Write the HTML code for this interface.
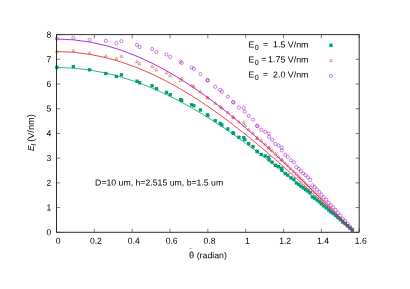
<!DOCTYPE html>
<html><head><meta charset="utf-8"><title>plot</title><style>html,body{margin:0;padding:0;background:#fff}svg{display:block;will-change:transform}</style></head><body>
<svg width="410" height="289" viewBox="0 0 410 289">
<rect width="410" height="289" fill="#fff"/>
<path d="M56.50,232.30h3.6M359.20,232.30h-3.6 M56.50,207.59h3.6M359.20,207.59h-3.6 M56.50,182.88h3.6M359.20,182.88h-3.6 M56.50,158.16h3.6M359.20,158.16h-3.6 M56.50,133.45h3.6M359.20,133.45h-3.6 M56.50,108.74h3.6M359.20,108.74h-3.6 M56.50,84.03h3.6M359.20,84.03h-3.6 M56.50,59.31h3.6M359.20,59.31h-3.6 M56.50,34.60h3.6M359.20,34.60h-3.6 M56.50,232.30v-3.6M56.50,34.60v3.6 M94.34,232.30v-3.6M94.34,34.60v3.6 M132.18,232.30v-3.6M132.18,34.60v3.6 M170.01,232.30v-3.6M170.01,34.60v3.6 M207.85,232.30v-3.6M207.85,34.60v3.6 M245.69,232.30v-3.6M245.69,34.60v3.6 M283.53,232.30v-3.6M283.53,34.60v3.6 M321.36,232.30v-3.6M321.36,34.60v3.6 M359.20,232.30v-3.6M359.20,34.60v3.6" stroke="#333" stroke-width="0.65" fill="none"/>
<g fill="none" stroke-width="0.8">
<path d="M56.50,67.47 L56.80,67.47 L73.40,68.12 L89.60,69.98 L105.80,73.03 L116.40,75.66 L121.40,77.07 L137.00,82.17 L139.60,83.11 L152.10,88.07 L156.40,89.92 L166.50,94.55 L170.20,96.35 L180.60,101.68 L181.70,102.26 L191.60,107.74 L193.80,109.00 L200.40,112.89 L207.40,117.18 L207.90,117.49 L215.20,122.14 L220.20,125.42 L221.90,126.55 L227.80,130.54 L233.00,134.15 L233.50,134.50 L238.90,138.32 L243.80,141.86 L244.80,142.59 L248.70,145.46 L253.00,148.67 L257.00,151.69 L257.40,151.99 L261.30,154.98 L265.20,157.99 L268.70,160.73 L269.10,161.04 L272.10,163.41 L275.40,166.03 L278.40,168.43 L281.70,171.09 L281.90,171.25 L285.20,173.93 L287.80,176.06 L291.00,178.69 L293.90,181.08 L296.40,183.16 L298.80,185.16 L300.90,186.91 L303.20,188.84 L305.60,190.86 L307.90,192.81 L310.10,194.67 L312.40,196.62 L314.70,198.58 L317.10,200.63 L319.40,202.60 L321.50,204.40 L323.80,206.38 L326.20,208.45 L328.60,210.52 L330.80,212.42 L333.20,214.50 L335.59,216.56 L337.98,218.64 L340.36,220.71 L342.75,222.79 L345.14,224.86 L347.52,226.94 L349.91,229.02 L352.30,231.10" stroke="#009E73"/>
<path d="M56.50,51.53 L56.80,51.53 L73.40,52.25 L89.60,54.29 L105.80,57.63 L116.40,60.51 L121.40,62.06 L137.00,67.65 L139.60,68.69 L152.10,74.12 L156.40,76.15 L166.50,81.23 L170.20,83.20 L180.60,89.05 L181.70,89.69 L191.60,95.69 L193.80,97.08 L200.40,101.35 L207.40,106.05 L207.90,106.39 L215.20,111.49 L220.20,115.08 L221.90,116.32 L227.80,120.70 L233.00,124.65 L233.50,125.04 L238.90,129.24 L243.80,133.12 L244.80,133.92 L248.70,137.06 L253.00,140.58 L257.00,143.89 L257.40,144.23 L261.30,147.50 L265.20,150.81 L268.70,153.81 L269.10,154.15 L272.10,156.75 L275.40,159.62 L278.40,162.26 L281.70,165.17 L281.90,165.35 L285.20,168.29 L287.80,170.62 L291.00,173.50 L293.90,176.13 L296.40,178.40 L298.80,180.60 L300.90,182.52 L303.20,184.64 L305.60,186.86 L307.90,188.99 L310.10,191.03 L312.40,193.17 L314.70,195.32 L317.10,197.57 L319.40,199.73 L321.50,201.70 L323.80,203.87 L326.20,206.14 L328.60,208.41 L330.80,210.50 L333.20,212.77 L335.59,215.04 L337.98,217.32 L340.36,219.59 L342.75,221.87 L345.14,224.15 L347.52,226.42 L349.91,228.71 L352.30,230.99" stroke="#E51E10"/>
<path d="M56.50,39.05 L56.80,39.05 L73.40,39.82 L89.60,42.00 L105.80,45.57 L116.40,48.65 L121.40,50.31 L137.00,56.28 L139.60,57.39 L152.10,63.20 L156.40,65.37 L166.50,70.80 L170.20,72.91 L180.60,79.16 L181.70,79.84 L191.60,86.26 L193.80,87.75 L200.40,92.31 L207.40,97.33 L207.90,97.70 L215.20,103.15 L220.20,106.99 L221.90,108.32 L227.80,113.00 L233.00,117.22 L233.50,117.63 L238.90,122.12 L243.80,126.27 L244.80,127.12 L248.70,130.49 L253.00,134.25 L257.00,137.79 L257.40,138.15 L261.30,141.65 L265.20,145.18 L268.70,148.39 L269.10,148.76 L272.10,151.53 L275.40,154.61 L278.40,157.42 L281.70,160.54 L281.90,160.73 L285.20,163.87 L287.80,166.36 L291.00,169.44 L293.90,172.25 L296.40,174.68 L298.80,177.03 L300.90,179.09 L303.20,181.35 L305.60,183.72 L307.90,186.00 L310.10,188.18 L312.40,190.47 L314.70,192.77 L317.10,195.17 L319.40,197.48 L321.50,199.59 L323.80,201.91 L326.20,204.33 L328.60,206.76 L330.80,208.99 L333.20,211.43 L335.59,213.85 L337.98,216.28 L340.36,218.71 L342.75,221.15 L345.14,223.58 L347.52,226.02 L349.91,228.46 L352.30,230.90" stroke="#9400D3"/>
</g>
<g fill="#009E73"><rect x="55.15" y="65.75" width="3.30" height="3.30"/><rect x="71.75" y="64.95" width="3.30" height="3.30"/><rect x="87.95" y="68.15" width="3.30" height="3.30"/><rect x="104.15" y="71.85" width="3.30" height="3.30"/><rect x="114.75" y="74.75" width="3.30" height="3.30"/><rect x="119.75" y="73.15" width="3.30" height="3.30"/><rect x="135.35" y="79.55" width="3.30" height="3.30"/><rect x="137.95" y="81.15" width="3.30" height="3.30"/><rect x="150.45" y="84.05" width="3.30" height="3.30"/><rect x="154.75" y="87.05" width="3.30" height="3.30"/><rect x="164.85" y="90.69" width="3.30" height="3.30"/><rect x="168.55" y="93.06" width="3.30" height="3.30"/><rect x="178.95" y="97.85" width="3.30" height="3.30"/><rect x="180.05" y="98.87" width="3.30" height="3.30"/><rect x="189.95" y="103.15" width="3.30" height="3.30"/><rect x="192.15" y="104.05" width="3.30" height="3.30"/><rect x="198.75" y="108.35" width="3.30" height="3.30"/><rect x="205.75" y="113.25" width="3.30" height="3.30"/><rect x="206.25" y="113.75" width="3.30" height="3.30"/><rect x="213.55" y="119.05" width="3.30" height="3.30"/><rect x="218.55" y="121.75" width="3.30" height="3.30"/><rect x="220.25" y="123.35" width="3.30" height="3.30"/><rect x="226.15" y="127.25" width="3.30" height="3.30"/><rect x="231.35" y="131.15" width="3.30" height="3.30"/><rect x="231.85" y="131.65" width="3.30" height="3.30"/><rect x="237.25" y="135.65" width="3.30" height="3.30"/><rect x="242.15" y="136.05" width="3.30" height="3.30"/><rect x="243.15" y="137.95" width="3.30" height="3.30"/><rect x="247.05" y="141.99" width="3.30" height="3.30"/><rect x="251.35" y="144.94" width="3.30" height="3.30"/><rect x="255.35" y="149.62" width="3.30" height="3.30"/><rect x="255.75" y="150.01" width="3.30" height="3.30"/><rect x="259.65" y="152.79" width="3.30" height="3.30"/><rect x="263.55" y="154.28" width="3.30" height="3.30"/><rect x="267.05" y="155.68" width="3.30" height="3.30"/><rect x="267.45" y="158.19" width="3.30" height="3.30"/><rect x="270.45" y="160.50" width="3.30" height="3.30"/><rect x="273.75" y="163.64" width="3.30" height="3.30"/><rect x="276.75" y="164.88" width="3.30" height="3.30"/><rect x="280.05" y="166.58" width="3.30" height="3.30"/><rect x="280.25" y="168.63" width="3.30" height="3.30"/><rect x="283.55" y="171.99" width="3.30" height="3.30"/><rect x="286.15" y="173.45" width="3.30" height="3.30"/><rect x="289.35" y="176.20" width="3.30" height="3.30"/><rect x="292.25" y="177.81" width="3.30" height="3.30"/><rect x="294.75" y="181.38" width="3.30" height="3.30"/><rect x="297.15" y="182.76" width="3.30" height="3.30"/><rect x="299.25" y="184.58" width="3.30" height="3.30"/><rect x="301.55" y="186.11" width="3.30" height="3.30"/><rect x="303.95" y="187.63" width="3.30" height="3.30"/><rect x="306.25" y="189.23" width="3.30" height="3.30"/><rect x="308.45" y="191.12" width="3.30" height="3.30"/><rect x="310.75" y="195.21" width="3.30" height="3.30"/><rect x="313.05" y="196.50" width="3.30" height="3.30"/><rect x="315.45" y="198.47" width="3.30" height="3.30"/><rect x="317.75" y="200.28" width="3.30" height="3.30"/><rect x="319.85" y="202.25" width="3.30" height="3.30"/><rect x="322.15" y="204.22" width="3.30" height="3.30"/><rect x="324.55" y="206.18" width="3.30" height="3.30"/><rect x="326.95" y="208.37" width="3.30" height="3.30"/><rect x="329.15" y="210.26" width="3.30" height="3.30"/><rect x="331.55" y="211.84" width="3.30" height="3.30"/><rect x="333.94" y="213.91" width="3.30" height="3.30"/><rect x="336.33" y="215.97" width="3.30" height="3.30"/><rect x="338.71" y="218.03" width="3.30" height="3.30"/><rect x="341.10" y="220.47" width="3.30" height="3.30"/><rect x="343.49" y="222.15" width="3.30" height="3.30"/><rect x="345.88" y="224.21" width="3.30" height="3.30"/><rect x="348.26" y="226.27" width="3.30" height="3.30"/><rect x="350.65" y="228.32" width="3.30" height="3.30"/><rect x="329.35" y="43.65" width="3.30" height="3.30"/></g>
<g fill="none" stroke="#E51E10" stroke-width="0.45"><path d="M56.80,50.10L55.35,52.70L58.25,52.70Z"/><path d="M73.40,49.10L71.95,51.70L74.85,51.70Z"/><path d="M89.60,51.50L88.15,54.10L91.05,54.10Z"/><path d="M105.80,54.40L104.35,57.00L107.25,57.00Z"/><path d="M116.40,57.30L114.95,59.90L117.85,59.90Z"/><path d="M121.40,54.80L119.95,57.40L122.85,57.40Z"/><path d="M137.00,60.00L135.55,62.60L138.45,62.60Z"/><path d="M139.60,62.40L138.15,65.00L141.05,65.00Z"/><path d="M152.10,64.90L150.65,67.50L153.55,67.50Z"/><path d="M156.40,68.40L154.95,71.00L157.85,71.00Z"/><path d="M166.50,71.20L165.05,73.80L167.95,73.80Z"/><path d="M170.20,74.10L168.75,76.70L171.65,76.70Z"/><path d="M180.60,78.70L179.15,81.30L182.05,81.30Z"/><path d="M181.70,76.76L180.25,79.36L183.15,79.36Z"/><path d="M191.60,84.00L190.15,86.60L193.05,86.60Z"/><path d="M193.80,84.70L192.35,87.30L195.25,87.30Z"/><path d="M200.40,90.20L198.95,92.80L201.85,92.80Z"/><path d="M207.40,95.70L205.95,98.30L208.85,98.30Z"/><path d="M207.90,96.30L206.45,98.90L209.35,98.90Z"/><path d="M215.20,101.70L213.75,104.30L216.65,104.30Z"/><path d="M220.20,105.20L218.75,107.80L221.65,107.80Z"/><path d="M221.90,106.20L220.45,108.80L223.35,108.80Z"/><path d="M227.80,111.00L226.35,113.60L229.25,113.60Z"/><path d="M233.00,115.30L231.55,117.90L234.45,117.90Z"/><path d="M233.50,115.90L232.05,118.50L234.95,118.50Z"/><path d="M238.90,120.40L237.45,123.00L240.35,123.00Z"/><path d="M243.80,120.80L242.35,123.40L245.25,123.40Z"/><path d="M244.80,124.10L243.35,126.70L246.25,126.70Z"/><path d="M248.70,128.20L247.25,130.80L250.15,130.80Z"/><path d="M253.00,131.50L251.55,134.10L254.45,134.10Z"/><path d="M257.00,136.40L255.55,139.00L258.45,139.00Z"/><path d="M257.40,136.90L255.95,139.50L258.85,139.50Z"/><path d="M261.30,139.11L259.85,141.71L262.75,141.71Z"/><path d="M265.20,142.68L263.75,145.28L266.65,145.28Z"/><path d="M268.70,145.91L267.25,148.51L270.15,148.51Z"/><path d="M269.10,146.28L267.65,148.88L270.55,148.88Z"/><path d="M272.10,149.08L270.65,151.68L273.55,151.68Z"/><path d="M275.40,152.18L273.95,154.78L276.85,154.78Z"/><path d="M278.40,155.02L276.95,157.62L279.85,157.62Z"/><path d="M281.70,158.17L280.25,160.77L283.15,160.77Z"/><path d="M281.90,158.36L280.45,160.96L283.35,160.96Z"/><path d="M285.20,161.53L283.75,164.13L286.65,164.13Z"/><path d="M287.80,164.04L286.35,166.64L289.25,166.64Z"/><path d="M291.00,167.15L289.55,169.75L292.45,169.75Z"/><path d="M293.90,169.99L292.45,172.59L295.35,172.59Z"/><path d="M296.40,172.44L294.95,175.04L297.85,175.04Z"/><path d="M298.80,174.81L297.35,177.41L300.25,177.41Z"/><path d="M300.90,176.88L299.45,179.48L302.35,179.48Z"/><path d="M303.20,179.17L301.75,181.77L304.65,181.77Z"/><path d="M305.60,181.56L304.15,184.16L307.05,184.16Z"/><path d="M307.90,183.85L306.45,186.45L309.35,186.45Z"/><path d="M310.10,186.06L308.65,188.66L311.55,188.66Z"/><path d="M312.40,188.37L310.95,190.97L313.85,190.97Z"/><path d="M314.70,190.69L313.25,193.29L316.15,193.29Z"/><path d="M317.10,193.11L315.65,195.71L318.55,195.71Z"/><path d="M319.40,195.44L317.95,198.04L320.85,198.04Z"/><path d="M321.50,197.57L320.05,200.17L322.95,200.17Z"/><path d="M323.80,199.91L322.35,202.51L325.25,202.51Z"/><path d="M326.20,202.35L324.75,204.95L327.65,204.95Z"/><path d="M328.60,204.80L327.15,207.40L330.05,207.40Z"/><path d="M330.80,207.05L329.35,209.65L332.25,209.65Z"/><path d="M333.20,209.51L331.75,212.11L334.65,212.11Z"/><path d="M335.59,211.96L334.14,214.56L337.04,214.56Z"/><path d="M337.98,214.41L336.53,217.01L339.43,217.01Z"/><path d="M340.36,216.86L338.91,219.46L341.81,219.46Z"/><path d="M342.75,219.31L341.30,221.91L344.20,221.91Z"/><path d="M345.14,221.77L343.69,224.37L346.59,224.37Z"/><path d="M347.52,224.23L346.07,226.83L348.97,226.83Z"/><path d="M349.91,226.69L348.46,229.29L351.36,229.29Z"/><path d="M352.30,229.15L350.85,231.75L353.75,231.75Z"/><path d="M331.00,58.97L329.55,61.57L332.45,61.57Z"/></g>
<g fill="none" stroke="#9400D3" stroke-width="0.5"><circle cx="56.80" cy="38.70" r="1.60"/><circle cx="73.40" cy="37.80" r="1.60"/><circle cx="89.60" cy="39.90" r="1.60"/><circle cx="105.80" cy="40.90" r="1.60"/><circle cx="116.40" cy="43.10" r="1.60"/><circle cx="121.40" cy="41.20" r="1.60"/><circle cx="137.00" cy="44.80" r="1.60"/><circle cx="139.60" cy="47.10" r="1.60"/><circle cx="152.10" cy="49.00" r="1.60"/><circle cx="156.40" cy="52.00" r="1.60"/><circle cx="166.50" cy="54.50" r="1.60"/><circle cx="170.20" cy="57.00" r="1.60"/><circle cx="180.60" cy="61.70" r="1.60"/><circle cx="181.70" cy="62.90" r="1.60"/><circle cx="191.60" cy="67.50" r="1.60"/><circle cx="193.80" cy="68.90" r="1.60"/><circle cx="200.40" cy="74.10" r="1.60"/><circle cx="207.40" cy="80.00" r="1.60"/><circle cx="207.90" cy="80.60" r="1.60"/><circle cx="215.20" cy="86.80" r="1.60"/><circle cx="220.20" cy="90.00" r="1.60"/><circle cx="221.90" cy="91.80" r="1.60"/><circle cx="227.80" cy="96.70" r="1.60"/><circle cx="233.00" cy="102.00" r="1.60"/><circle cx="233.50" cy="102.60" r="1.60"/><circle cx="238.90" cy="107.60" r="1.60"/><circle cx="243.80" cy="107.90" r="1.60"/><circle cx="244.80" cy="111.70" r="1.60"/><circle cx="248.70" cy="115.80" r="1.60"/><circle cx="253.00" cy="119.60" r="1.60"/><circle cx="257.00" cy="125.70" r="1.60"/><circle cx="257.40" cy="126.20" r="1.60"/><circle cx="261.30" cy="129.80" r="1.60"/><circle cx="265.20" cy="131.70" r="1.60"/><circle cx="268.70" cy="133.50" r="1.60"/><circle cx="269.10" cy="136.80" r="1.60"/><circle cx="272.10" cy="139.80" r="1.60"/><circle cx="275.40" cy="143.90" r="1.60"/><circle cx="278.40" cy="145.50" r="1.60"/><circle cx="281.70" cy="147.70" r="1.60"/><circle cx="281.90" cy="150.40" r="1.60"/><circle cx="285.20" cy="154.80" r="1.60"/><circle cx="287.80" cy="156.70" r="1.60"/><circle cx="291.00" cy="160.30" r="1.60"/><circle cx="293.90" cy="162.40" r="1.60"/><circle cx="296.40" cy="167.10" r="1.60"/><circle cx="298.80" cy="168.90" r="1.60"/><circle cx="300.90" cy="171.30" r="1.60"/><circle cx="303.20" cy="173.30" r="1.60"/><circle cx="305.60" cy="175.30" r="1.60"/><circle cx="307.90" cy="177.40" r="1.60"/><circle cx="310.10" cy="179.90" r="1.60"/><circle cx="312.40" cy="185.30" r="1.60"/><circle cx="314.70" cy="187.00" r="1.60"/><circle cx="317.10" cy="189.60" r="1.60"/><circle cx="319.40" cy="192.00" r="1.60"/><circle cx="321.50" cy="194.60" r="1.60"/><circle cx="323.80" cy="197.20" r="1.60"/><circle cx="326.20" cy="199.80" r="1.60"/><circle cx="328.60" cy="202.70" r="1.60"/><circle cx="330.80" cy="205.20" r="1.60"/><circle cx="333.20" cy="207.30" r="1.60"/><circle cx="335.59" cy="210.04" r="1.60"/><circle cx="337.98" cy="212.78" r="1.60"/><circle cx="340.36" cy="215.51" r="1.60"/><circle cx="342.75" cy="218.75" r="1.60"/><circle cx="345.14" cy="220.99" r="1.60"/><circle cx="347.52" cy="223.72" r="1.60"/><circle cx="349.91" cy="226.46" r="1.60"/><circle cx="352.30" cy="229.20" r="1.60"/><circle cx="330.90" cy="75.80" r="1.60"/></g>
<rect x="56.50" y="34.60" width="302.70" height="197.70" fill="none" stroke="#222" stroke-width="0.95" stroke-linejoin="round"/>
<g font-family="'Liberation Sans', sans-serif" font-size="8.6" fill="#000">
<text x="51.30" y="235.20" text-anchor="end" transform="rotate(0.03 51.30 235.20)">0</text>
<text x="51.30" y="210.49" text-anchor="end" transform="rotate(0.03 51.30 210.49)">1</text>
<text x="51.30" y="185.78" text-anchor="end" transform="rotate(0.03 51.30 185.78)">2</text>
<text x="51.30" y="161.06" text-anchor="end" transform="rotate(0.03 51.30 161.06)">3</text>
<text x="51.30" y="136.35" text-anchor="end" transform="rotate(0.03 51.30 136.35)">4</text>
<text x="51.30" y="111.64" text-anchor="end" transform="rotate(0.03 51.30 111.64)">5</text>
<text x="51.30" y="86.93" text-anchor="end" transform="rotate(0.03 51.30 86.93)">6</text>
<text x="51.30" y="62.21" text-anchor="end" transform="rotate(0.03 51.30 62.21)">7</text>
<text x="51.30" y="37.50" text-anchor="end" transform="rotate(0.03 51.30 37.50)">8</text>
<text x="58.10" y="243.80" text-anchor="middle" transform="rotate(0.03 58.10 243.80)">0</text>
<text x="95.94" y="243.80" text-anchor="middle" transform="rotate(0.03 95.94 243.80)">0.2</text>
<text x="133.78" y="243.80" text-anchor="middle" transform="rotate(0.03 133.78 243.80)">0.4</text>
<text x="171.61" y="243.80" text-anchor="middle" transform="rotate(0.03 171.61 243.80)">0.6</text>
<text x="209.45" y="243.80" text-anchor="middle" transform="rotate(0.03 209.45 243.80)">0.8</text>
<text x="247.29" y="243.80" text-anchor="middle" transform="rotate(0.03 247.29 243.80)">1</text>
<text x="285.13" y="243.80" text-anchor="middle" transform="rotate(0.03 285.13 243.80)">1.2</text>
<text x="322.96" y="243.80" text-anchor="middle" transform="rotate(0.03 322.96 243.80)">1.4</text>
<text x="360.80" y="243.80" text-anchor="middle" transform="rotate(0.03 360.80 243.80)">1.6</text>
<text x="188.90" y="258.30" font-size="9.2" transform="rotate(0.03 188.90 258.30)">θ</text>
<text x="189.40" y="250.60" font-size="5" fill="#444" transform="rotate(0.03 189.40 250.60)">~</text>
<text x="196.70" y="258.20" textLength="30.2" lengthAdjust="spacingAndGlyphs" transform="rotate(0.03 196.70 258.20)">(radian)</text>
<g transform="translate(34.2,151.1) rotate(-90)"><text x="0" y="0" font-style="italic">E</text><text x="5.7" y="1.7" font-style="italic" font-size="6.8">l</text><text x="9.3" y="0" textLength="27.5" lengthAdjust="spacingAndGlyphs">(V/nm)</text></g>
<text x="95.10" y="185.40" textLength="128.1" lengthAdjust="spacingAndGlyphs" transform="rotate(0.03 95.10 185.40)">D=10 um, h=2.515 um, b=1.5 um</text>
<text x="248.60" y="47.40" transform="rotate(0.03 248.60 47.40)">E</text><text x="254.80" y="49.70" font-size="7.2" transform="rotate(0.03 254.80 49.70)">0</text><text x="262.90" y="47.40" transform="rotate(0.03 262.90 47.40)">=</text><text x="308.50" y="47.40" text-anchor="end" textLength="35.45" lengthAdjust="spacingAndGlyphs" transform="rotate(0.03 308.50 47.40)">1.5 V/nm</text>
<text x="248.60" y="62.40" transform="rotate(0.03 248.60 62.40)">E</text><text x="254.80" y="64.70" font-size="7.2" transform="rotate(0.03 254.80 64.70)">0</text><text x="261.20" y="62.40" transform="rotate(0.03 261.20 62.40)">=</text><text x="308.50" y="62.40" text-anchor="end" textLength="40.38" lengthAdjust="spacingAndGlyphs" transform="rotate(0.03 308.50 62.40)">1.75 V/nm</text>
<text x="248.60" y="77.50" transform="rotate(0.03 248.60 77.50)">E</text><text x="254.80" y="79.80" font-size="7.2" transform="rotate(0.03 254.80 79.80)">0</text><text x="262.90" y="77.50" transform="rotate(0.03 262.90 77.50)">=</text><text x="308.50" y="77.50" text-anchor="end" textLength="35.45" lengthAdjust="spacingAndGlyphs" transform="rotate(0.03 308.50 77.50)">2.0 V/nm</text>
</g>
</svg>
</body></html>
